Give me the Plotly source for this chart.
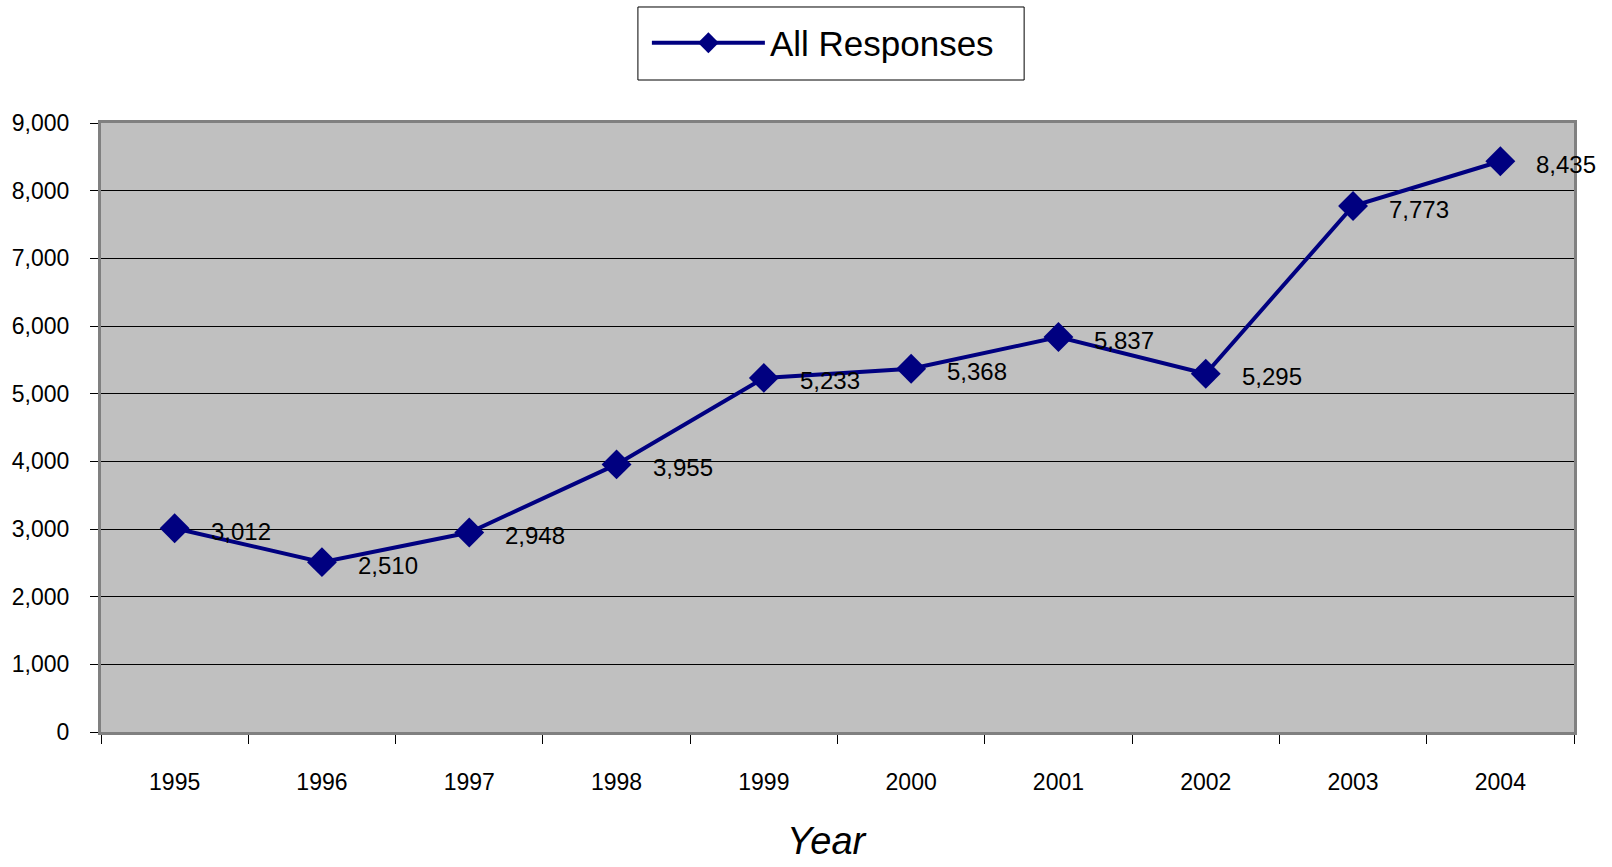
import plotly.graph_objects as go

# Yearly totals of all responses
years = ["1995", "1996", "1997", "1998", "1999", "2000", "2001", "2002", "2003", "2004"]
responses = [3012, 2510, 2948, 3955, 5233, 5368, 5837, 5295, 7773, 8435]
y_ticks = [0, 1000, 2000, 3000, 4000, 5000, 6000, 7000, 8000, 9000]

NAVY = "#000080"
FONT = "Arial, Liberation Sans, sans-serif"

fig = go.Figure()
fig.add_trace(go.Scatter(
    x=years,
    y=responses,
    mode="lines+markers",
    name="All Responses",
    line=dict(color=NAVY, width=4),
    marker=dict(symbol="diamond", size=23, color=NAVY),
))

# value labels to the right of each point (x given as category index)
for i, v in enumerate(responses):
    fig.add_annotation(
        x=i, y=v, text=f"{v:,}", showarrow=False,
        xanchor="left", yanchor="middle", xshift=34, yshift=-3,
        font=dict(family=FONT, size=24, color="black"),
    )

# x-axis title
fig.add_annotation(
    xref="paper", yref="paper", x=0.4932, y=-0.179,
    xanchor="center", yanchor="middle", showarrow=False,
    text="<i>Year</i>", font=dict(family=FONT, size=38, color="black"),
)

# legend frame
fig.add_shape(
    type="rect", xref="paper", yref="paper",
    x0=0.3645, x1=0.6267, y0=1.0706, y1=1.1905,
    line=dict(color="black", width=1), fillcolor="white", layer="below",
)

fig.update_layout(
    width=1612, height=867,
    margin=dict(l=98, r=38, t=123, b=135),
    paper_bgcolor="white",
    plot_bgcolor="#C0C0C0",
    font=dict(family=FONT, color="black"),
    showlegend=True,
    legend=dict(
        x=0.3706, xanchor="left", y=1.1314, yanchor="middle",
        bgcolor="rgba(0,0,0,0)", borderwidth=0,
        font=dict(family=FONT, size=35, color="black"),
        itemwidth=113,
    ),
    xaxis=dict(
        type="category",
        range=[-0.5, len(years) - 0.5],
        tickson="boundaries",
        tickangle=0,
        ticks="outside", ticklen=9, tickcolor="black", tickwidth=1,
        ticklabelstandoff=27,
        tickfont=dict(family=FONT, size=23, color="black"),
        showline=True, linecolor="#808080", linewidth=3, mirror=True,
        showgrid=False, zeroline=False,
    ),
    yaxis=dict(
        range=[0, 9000],
        tickvals=y_ticks,
        tickformat=",",
        ticks="outside", ticklen=8, tickcolor="black", tickwidth=1,
        ticklabelstandoff=16,
        tickfont=dict(family=FONT, size=23, color="black"),
        showline=True, linecolor="#808080", linewidth=3, mirror=True,
        showgrid=True, gridcolor="black", gridwidth=1,
        zeroline=False,
    ),
)

fig.write_html("out.html")
